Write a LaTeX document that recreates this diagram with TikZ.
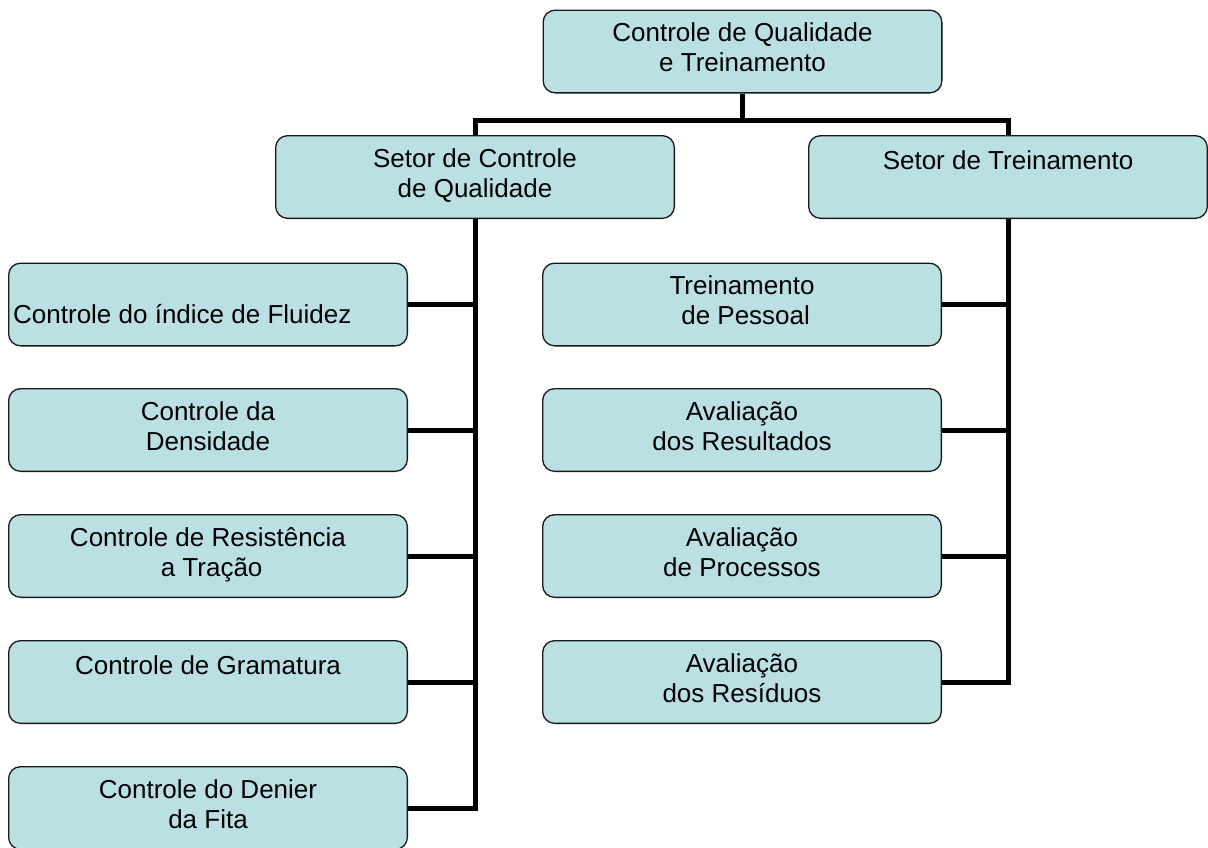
\documentclass[tikz,border=0pt]{standalone}
\usepackage{fontspec}
\setmainfont{Liberation Sans}
\definecolor{azulcaixa}{RGB}{187,224,227}
\tikzset{
  caixa/.style={rectangle, rounded corners=12pt, draw=black!90, line width=1.3pt, fill=azulcaixa, minimum width=398.7pt, minimum height=82.7pt, inner sep=0pt},
  rotulo/.style={anchor=north, inner sep=0pt, yshift=-13pt, align=center, font=\fontsize{26}{30}\selectfont, execute at begin node=\strut},
  conector/.style={line width=5pt, line join=miter}
}
\begin{document}
\begin{tikzpicture}[x=1pt,y=-1pt]
\useasboundingbox (0,0) rectangle (1208,847);
% caixas
\node[caixa] (topo) at (742.5,51.5){};
\node[caixa] (cq) at (475,177){};
\node[caixa] (tr) at (1008,177){};
\node[caixa] (c1) at (208,304.5){};
\node[caixa] (c2) at (208,430){};
\node[caixa] (c3) at (208,556){};
\node[caixa] (c4) at (208,682){};
\node[caixa] (c5) at (208,808){};
\node[caixa] (t1) at (742,304.5){};
\node[caixa] (t2) at (742,430){};
\node[caixa] (t3) at (742,556){};
\node[caixa] (t4) at (742,682){};
% textos
\node[rotulo] (ltopo) at (topo.north){Controle de Qualidade\\e Treinamento};
\node[rotulo] (lcq) at (cq.north){Setor de Controle\\de Qualidade};
\node[rotulo] (ltr) at (tr.north){Setor de Treinamento};
\node[rotulo, anchor=north west, xshift=5pt, yshift=-27pt] (lc1) at (c1.north west){Controle do índice de Fluidez};
\node[rotulo] (lc2) at (c2.north){Controle da\\Densidade};
\node[rotulo] (lc3) at (c3.north){Controle de Resistência\\\ a Tração};
\node[rotulo] (lc4) at (c4.north){Controle de Gramatura};
\node[rotulo] (lc5) at (c5.north){Controle do Denier\\da Fita};
\node[rotulo] (lt1) at (t1.north){Treinamento\\\ de Pessoal};
\node[rotulo] (lt2) at (t2.north){Avaliação\\dos Resultados};
\node[rotulo] (lt3) at (t3.north){Avaliação\\de Processos};
\node[rotulo] (lt4) at (t4.north){Avaliação\\dos Resíduos};
% ligacoes
\coordinate (barra) at (742.5,120);
\draw[conector](topo.south) -- (barra);
\draw[conector](cq.north) |- (barra) -| (tr.north);
\draw[conector](c1.east) -| (cq.south);
\draw[conector](c2.east) -| (cq.south);
\draw[conector](c3.east) -| (cq.south);
\draw[conector](c4.east) -| (cq.south);
\draw[conector](c5.east) -| (cq.south);
\draw[conector](t1.east) -| (tr.south);
\draw[conector](t2.east) -| (tr.south);
\draw[conector](t3.east) -| (tr.south);
\draw[conector](t4.east) -| (tr.south);
\end{tikzpicture}
\end{document}
